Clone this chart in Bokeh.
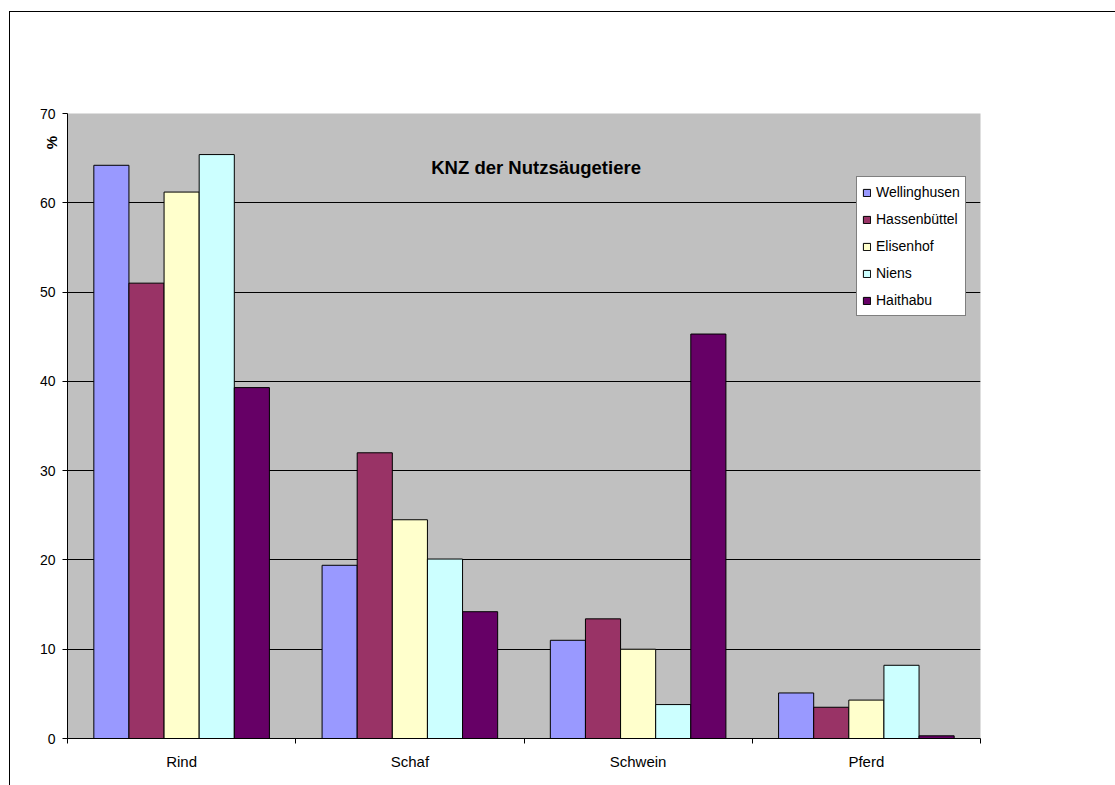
import math
from bokeh.plotting import figure
from bokeh.models import (Range1d, LinearAxis, FixedTicker, Label, ColumnDataSource)
from bokeh.transform import dodge
from bokeh.embed import file_html
from bokeh.resources import INLINE

# ---- data ----
categories = ["Rind", "Schaf", "Schwein", "Pferd"]
series_names = ["Wellinghusen", "Hassenbüttel", "Elisenhof", "Niens", "Haithabu"]
wellinghusen = [64.2, 19.4, 11.0, 5.1]
hassenbuettel = [51.0, 32.0, 13.4, 3.5]
elisenhof = [61.2, 24.5, 10.0, 4.3]
niens = [65.4, 20.1, 3.8, 8.2]
haithabu = [39.3, 14.2, 45.3, 0.3]
series_values = [wellinghusen, hassenbuettel, elisenhof, niens, haithabu]
colors = ["#9999FF", "#993366", "#FFFFCC", "#CCFFFF", "#660066"]
y_ticks = [0, 10, 20, 30, 40, 50, 60, 70]
title_text = "KNZ der Nutzsäugetiere"
y_unit = "%"
y_unit_pos = 67.5

FONT = "Liberation Sans"

n = len(categories)
centers = [i + 0.5 for i in range(n)]
data = {"cat": categories, "xc": centers}
keys = []
for i, vals in enumerate(series_values):
    k = f"s{i}"
    keys.append(k)
    data[k] = vals
source = ColumnDataSource(data)

p = figure(x_range=Range1d(0, n), y_range=Range1d(y_ticks[0], y_ticks[-1]),
           frame_width=913, frame_height=625,
           min_border_left=57, min_border_top=101, min_border_right=135, min_border_bottom=47,
           output_backend="svg", toolbar_location=None, x_axis_location=None,
           y_axis_location="left")
p.styles = {"margin-left": "9px", "margin-top": "11px",
            "border-left": "1px solid black", "border-top": "1px solid black"}
p.background_fill_color = "#C0C0C0"
p.border_fill_color = "white"
p.outline_line_color = None
p.xgrid.visible = False

# y axis
p.yaxis.ticker = FixedTicker(ticks=y_ticks)
p.yaxis.major_tick_out = 5
p.yaxis.major_tick_in = 0
p.yaxis.minor_tick_line_color = None
p.yaxis.axis_line_color = "black"
p.yaxis.major_tick_line_color = "black"
p.yaxis.major_label_text_font = FONT
p.yaxis.major_label_text_font_size = "14px"
p.yaxis.major_label_text_color = "black"
p.yaxis.major_label_standoff = 7
p.ygrid.grid_line_color = "black"
p.ygrid.grid_line_width = 1

# unit label "%" as a second (invisible) left axis with one labelled tick
uax = LinearAxis(ticker=FixedTicker(ticks=[y_unit_pos]),
                 major_label_overrides={y_unit_pos: y_unit},
                 major_label_orientation=math.pi / 2,
                 axis_line_color=None, major_tick_line_color=None,
                 minor_tick_line_color=None, major_tick_out=0, major_tick_in=0,
                 major_label_text_font=FONT, major_label_text_font_size="15px",
                 major_label_text_font_style="bold",
                 major_label_text_color="black", major_label_standoff=-15)
p.add_layout(uax, "left")

# x axis: boundary ticks + category labels
xax = LinearAxis(ticker=FixedTicker(ticks=centers, minor_ticks=list(range(n + 1))),
                 major_label_overrides={c: lab for c, lab in zip(centers, categories)},
                 major_tick_line_color=None, major_tick_out=0, major_tick_in=0,
                 minor_tick_out=5, minor_tick_in=0, minor_tick_line_color="black",
                 axis_line_color="black",
                 major_label_text_font=FONT, major_label_text_font_size="15px",
                 major_label_text_color="black", major_label_standoff=9)
p.add_layout(xax, "below")

# bars
m = len(series_names)
bw = 1.0 / (m + 1.5)
for j, (name, k, col) in enumerate(zip(series_names, keys, colors)):
    off = (j - (m - 1) / 2) * bw
    p.vbar(x=dodge("xc", off), top=k, width=bw, source=source,
           fill_color=col, line_color="black", line_width=1, legend_label=name)

# legend
lg = p.legend[0]
lg.location = (789, 422)
lg.border_line_color = "black"
lg.border_line_width = 1
lg.background_fill_color = "white"
lg.background_fill_alpha = 1
lg.label_text_font = FONT
lg.label_text_font_size = "14px"
lg.label_text_color = "black"
lg.glyph_width = 9
lg.glyph_height = 9
lg.label_height = 20
lg.spacing = 7
lg.padding = 5
lg.margin = 0
lg.label_standoff = 5

# chart title inside the plot area
p.add_layout(Label(x=2.053, y=63.9, text=title_text,
                   text_font=FONT, text_font_size="18.5px", text_font_style="bold",
                   text_align="center", text_baseline="middle", text_color="black"))

open("out.html", "w").write(file_html(p, INLINE))
